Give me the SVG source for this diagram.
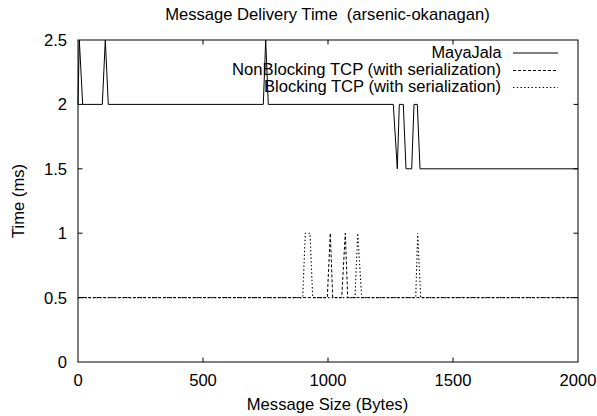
<svg xmlns="http://www.w3.org/2000/svg" width="597" height="416" viewBox="0 0 597 416">
  <style>
    text { font-family: "Liberation Sans", Arial, sans-serif; font-size: 16.6px; fill: #000; }
    .frame { fill: none; stroke: #000; stroke-width: 1; }
    .tick { stroke: #000; stroke-width: 1; }
    .s1 { fill: none; stroke: #000; stroke-width: 1; }
    .s2 { fill: none; stroke: #000; stroke-width: 1; stroke-dasharray: 3 2; }
    .s3 { fill: none; stroke: #000; stroke-width: 1.1; stroke-dasharray: 1.4 2.3; }
    .yl { text-anchor: end; }
    .xl { text-anchor: middle; }
    .key { font-size: 15.6px; }
  </style>
  <rect width="597" height="416" fill="#fff"/>

  <!-- title -->
  <text id="title" x="327.5" y="20" text-anchor="middle" style="white-space:pre">Message Delivery Time  (arsenic-okanagan)</text>

  <!-- plot frame and ticks: x 0..2000 -> 78..578, y 0..2.5 -> 362..40 -->
  <g id="axes">
    <rect class="frame" x="78" y="40" width="500" height="322"/>
    <path class="tick" d="M203 362v-4.5M328 362v-4.5M453 362v-4.5
                          M203 40v4.5M328 40v4.5M453 40v4.5
                          M78 297.6h4.5M78 233.2h4.5M78 168.8h4.5M78 104.4h4.5
                          M578 297.6h-4.5M578 233.2h-4.5M578 168.8h-4.5M578 104.4h-4.5"/>
    <g id="ylabels">
      <text class="yl" x="67" y="368">0</text>
      <text class="yl" x="67" y="303.5">0.5</text>
      <text class="yl" x="67" y="239">1</text>
      <text class="yl" x="67" y="174.5">1.5</text>
      <text class="yl" x="67" y="110">2</text>
      <text class="yl" x="67" y="46">2.5</text>
    </g>
    <g id="xlabels">
      <text class="xl" x="78" y="386">0</text>
      <text class="xl" x="203" y="386">500</text>
      <text class="xl" x="328" y="386">1000</text>
      <text class="xl" x="453" y="386">1500</text>
      <text class="xl" x="578" y="386">2000</text>
    </g>
    <text id="xtitle" x="327.5" y="410" text-anchor="middle">Message Size (Bytes)</text>
    <text id="ytitle" transform="translate(23.5 201) rotate(-90)" text-anchor="middle">Time (ms)</text>
  </g>

  <!-- data series -->
  <g id="series">
    <path id="mayajala" class="s1" d="M78 104.4L79.3 40L82.7 104.4H102.3L105.3 40L108.3 104.4H263.3L265.7 40L268.3 104.4H393.3L397.3 168.8L399.3 104.4H403.3L406 168.8H411.7L414 104.4H417.3L420 168.8H578"/>
    <path id="nonblocking" class="s2" d="M78 297.6H327.3L330.3 233.2L332.7 297.6H341.7L345.3 233.2L347.7 297.6H578"/>
    <path id="blocking" class="s3" d="M78 297.6H302.7L305.3 233.2H310L312.7 297.6H355L357.7 233.2L361.7 297.6H415.7L417.7 233.2L420.7 297.6H578"/>
  </g>

  <!-- key -->
  <g id="legend">
    <text class="yl key" x="501.5" y="58" textLength="70" lengthAdjust="spacingAndGlyphs">MayaJala</text>
    <line class="s1" x1="513" y1="53" x2="558" y2="53"/>
    <text class="yl key" x="501" y="75" textLength="269" lengthAdjust="spacingAndGlyphs">NonBlocking TCP (with serialization)</text>
    <line class="s2" x1="513" y1="70.5" x2="558" y2="70.5"/>
    <text class="yl key" x="501" y="92" textLength="237" lengthAdjust="spacingAndGlyphs">Blocking TCP (with serialization)</text>
    <line class="s3" x1="513" y1="87.5" x2="558" y2="87.5"/>
  </g>
</svg>
